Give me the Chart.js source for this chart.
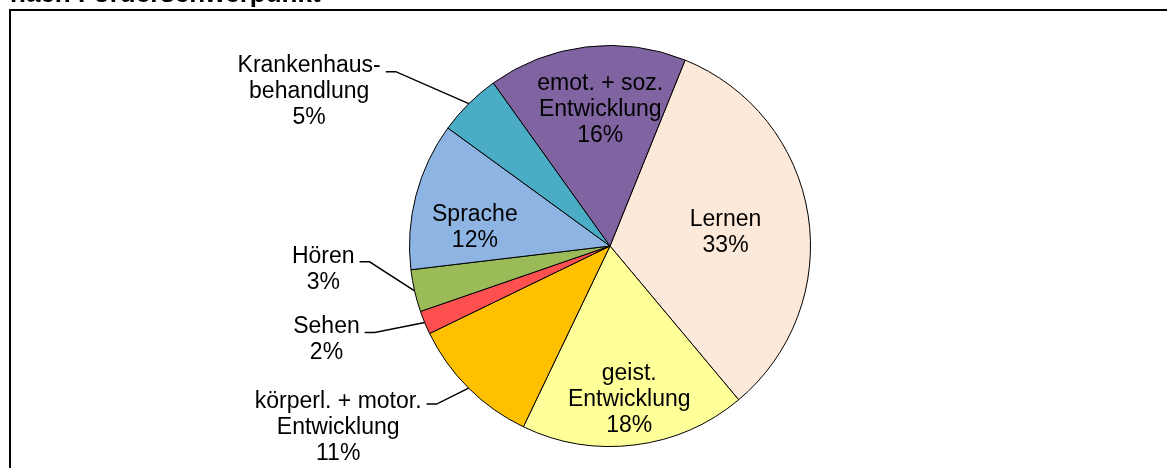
<!DOCTYPE html>
<html>
<head>
<meta charset="utf-8">
<script src="https://cdn.jsdelivr.net/npm/chart.js@4/dist/chart.umd.min.js"></script>
<style>
  html, body { margin: 0; padding: 0; background: #fff; }
  #wrap { width: 1167px; height: 468px; }
</style>
</head>
<body>
<div id="wrap"><canvas id="pie" width="1167" height="468"></canvas></div>
<script>
// data (clockwise from the top-right slice)
const categories = [
  ['Lernen'],
  ['geist.', 'Entwicklung'],
  ['körperl. + motor.', 'Entwicklung'],
  ['Sehen'],
  ['Hören'],
  ['Sprache'],
  ['Krankenhaus-', 'behandlung'],
  ['emot. + soz.', 'Entwicklung']
];
const shares = [32.8, 18.2, 10.7, 1.9, 3.4, 11.9, 5.1, 16.0];
const sliceColors = ['#FDE9D9', '#FFFF99', '#FFC000', '#FF5050', '#9BBB59', '#8DB4E2', '#4BACC6', '#8064A2'];
const titleText = 'nach Förderschwerpunkt';

// label placement: inside labels use radius fraction + angle tweak (deg),
// outside labels use a leader line (elbow offset from the slice edge)
const labelStyle = [
  { inside: true, r: 0.58, a: 2.6 },
  { inside: true, r: 0.77, a: 0 },
  { inside: false, dx: -32, dy: 16, base: 4 },
  { inside: false, dx: -50, dy: 10, base: 0 },
  { inside: false, dx: -45, dy: -29, base: 1 },
  { inside: true, r: 0.68, a: -7 },
  { inside: false, dx: -73, dy: -32, base: 0 },
  { inside: true, r: 0.68, a: 2.7 }
];

const FONT = '23px "Liberation Sans", Arial, sans-serif';
const LINE_H = 26;

const frame = {
    id: 'frame',
    beforeDraw(chart) {
        const ctx = chart.ctx;
        ctx.save();
        ctx.fillStyle = '#000';
        ctx.font = 'bold 26px "Liberation Sans", Arial, sans-serif';
        ctx.textAlign = 'left';
        ctx.textBaseline = 'alphabetic';
        ctx.fillText(titleText, 10, 2);
        ctx.strokeStyle = '#000';
        ctx.lineWidth = 2;
        ctx.beginPath();
        ctx.moveTo(10, 468);
        ctx.lineTo(10, 10);
        ctx.lineTo(1167, 10);
        ctx.stroke();
        ctx.restore();
    }
};

const sliceLabels = {
    id: 'sliceLabels',
    afterDatasetsDraw(chart) {
        const ctx = chart.ctx;
        const meta = chart.getDatasetMeta(0);
        ctx.save();
        ctx.font = FONT;
        ctx.fillStyle = '#000';
        ctx.strokeStyle = '#000';
        ctx.lineWidth = 1.5;
        meta.data.forEach((arc, i) => {
            const p = arc.getProps(['x', 'y', 'startAngle', 'endAngle', 'outerRadius'], true);
            const mid = (p.startAngle + p.endAngle) / 2;
            const lines = categories[i].concat([Math.round(shares[i]) + '%']);
            const st = labelStyle[i];
            if (st.inside) {
                const ang = mid + st.a * Math.PI / 180;
                const cx = p.x + Math.cos(ang) * p.outerRadius * st.r;
                const cy = p.y + Math.sin(ang) * p.outerRadius * st.r;
                ctx.textAlign = 'center';
                ctx.textBaseline = 'middle';
                const top = cy - (lines.length - 1) * LINE_H / 2;
                lines.forEach((t, k) => ctx.fillText(t, cx, top + k * LINE_H));
            } else {
                const ex = p.x + Math.cos(mid) * p.outerRadius;
                const ey = p.y + Math.sin(mid) * p.outerRadius;
                const bx = ex + st.dx, by = ey + st.dy;
                ctx.beginPath();
                ctx.moveTo(ex, ey);
                ctx.lineTo(bx, by);
                ctx.lineTo(bx - 10, by);
                ctx.stroke();
                const right = bx - 15;
                const w = ctx.measureText(lines[0]).width;
                const cx = right - w / 2;
                ctx.textAlign = 'center';
                ctx.textBaseline = 'alphabetic';
                lines.forEach((t, k) => ctx.fillText(t, cx, by + st.base + k * LINE_H));
            }
        });
        ctx.restore();
    }
};

new Chart(document.getElementById('pie'), {
    type: 'pie',
    data: {
        labels: categories.map(c => c.join(' ')),
        datasets: [{
            data: shares,
            backgroundColor: sliceColors,
            borderColor: '#000',
            borderWidth: 1
        }]
    },
    options: {
        responsive: false,
        animation: false,
        rotation: 22,
        layout: { padding: { top: 45, bottom: 21, left: 409, right: 356 } },
        plugins: {
            legend: { display: false },
            tooltip: { enabled: false }
        }
    },
    plugins: [frame, sliceLabels]
});
</script>
</body>
</html>
